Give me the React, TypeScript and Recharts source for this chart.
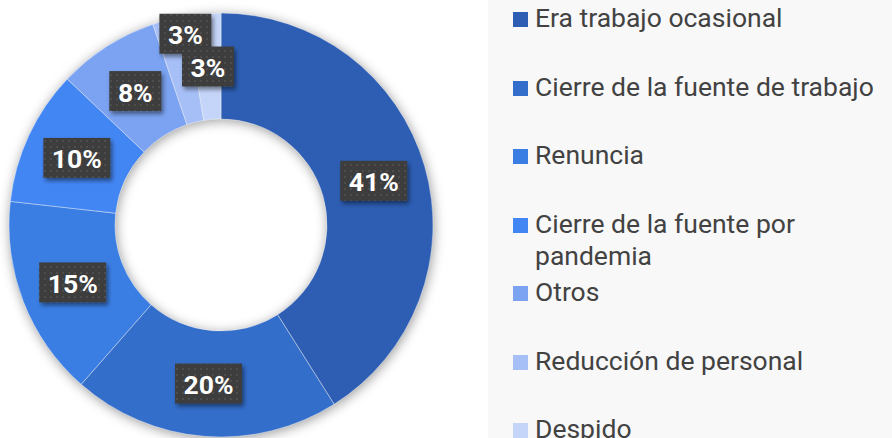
import { PieChart, Pie, Cell, Legend } from 'recharts';

const categories = [
  'Era trabajo ocasional',
  'Cierre de la fuente de trabajo',
  'Renuncia',
  'Cierre de la fuente por pandemia',
  'Otros',
  'Reducción de personal',
  'Despido',
];

const shares = [41.0, 20.4, 15.3, 10.3, 7.7, 2.6, 2.6];

const COLORS = ['#2d5eb3', '#336ecb', '#3b7ee3', '#4286f4', '#7ba3f2', '#a6bff7', '#c5d5f9'];

const data = categories.map((name, i) => ({ name, value: shares[i] }));
const total = shares.reduce((a, b) => a + b, 0);

const RADIAN = Math.PI / 180;
const CX = 221;
const CY = 225;
const INNER = 106;
const OUTER = 212;

// small slices at the top collide, push the earlier one up
const labelNudge: Record<string, [number, number]> = {
  'Reducción de personal': [3, -37],
};

const renderLabel = (props: any) => {
  const { cx, cy, midAngle, innerRadius, outerRadius, value, name } = props;
  const r = (innerRadius + outerRadius) / 2;
  const [nx, ny] = labelNudge[name] || [0, 0];
  const x = cx + r * Math.cos(-midAngle * RADIAN) + nx;
  const y = cy + r * Math.sin(-midAngle * RADIAN) + ny;
  const text = `${Math.round((value / total) * 100)}%`;
  const w = text.length * 15 + 22;
  const h = 40;
  return (
    <g>
      <rect x={x - w / 2} y={y - h / 2} width={w} height={h} fill="url(#dots)" filter="url(#boxShadow)" />
      <text
        x={x}
        y={y + 1}
        textAnchor="middle"
        dominantBaseline="central"
        fill="#ffffff"
        fontFamily="Roboto"
        fontWeight={700}
        fontSize={26.5}
      >
        {text}
      </text>
    </g>
  );
};

const renderLegend = () => (
  <div style={{ width: 404, height: 438, background: '#f8f8f8', fontFamily: 'Roboto', position: 'relative' }}>
    {categories.map((name, i) => (
      <div
        key={name}
        style={{
          position: 'absolute',
          left: 25,
          top: 2 + i * 68.5,
          width: 379,
          display: 'flex',
          alignItems: 'flex-start',
        }}
      >
        <div style={{ width: 15, height: 15, marginTop: 10, background: COLORS[i], flex: 'none' }} />
        <div style={{ marginLeft: 7, fontSize: 26.5, lineHeight: '32px', color: '#424242', width: 357 }}>{name}</div>
      </div>
    ))}
  </div>
);

export default function App() {
  return (
    <div style={{ width: 892, height: 438, position: 'relative', background: '#ffffff', overflow: 'hidden' }}>
      <style>{`body{margin:0}`}</style>
      <svg width={0} height={0} style={{ position: 'absolute' }}>
        <defs>
          <pattern id="dots" width={6} height={6} patternUnits="userSpaceOnUse">
            <rect width={6} height={6} fill="#3c3c3c" />
            <rect x={2} y={2} width={2} height={2} fill="#4e4e4e" />
          </pattern>
          <filter id="boxShadow" x="-30%" y="-30%" width="160%" height="160%">
            <feDropShadow dx={2} dy={3} stdDeviation={2} floodColor="#000" floodOpacity={0.45} />
          </filter>
          <filter id="softShadow" x="-50%" y="-50%" width="200%" height="200%">
            <feGaussianBlur stdDeviation={6} />
          </filter>
        </defs>
      </svg>
      <PieChart width={892} height={438} margin={{ top: 0, right: 0, bottom: 0, left: 0 }}>
        <Pie
          data={data}
          dataKey="value"
          nameKey="name"
          cx={CX + 1}
          cy={CY + 2}
          innerRadius={INNER}
          outerRadius={OUTER}
          startAngle={90}
          endAngle={-270}
          stroke="none"
          legendType="none"
          isAnimationActive={false}
        >
          {data.map((_, i) => (
            <Cell key={`shadow-${i}`} fill="#000000" fillOpacity={0.4} filter="url(#softShadow)" />
          ))}
        </Pie>
        <Pie
          data={data}
          dataKey="value"
          nameKey="name"
          cx={CX}
          cy={CY}
          innerRadius={INNER}
          outerRadius={OUTER}
          startAngle={90}
          endAngle={-270}
          stroke="#ffffff"
          strokeWidth={0.4}
          labelLine={false}
          label={renderLabel}
          isAnimationActive={false}
        >
          {data.map((_, i) => (
            <Cell key={`cell-${i}`} fill={COLORS[i]} />
          ))}
        </Pie>
        <Legend
          layout="vertical"
          align="right"
          verticalAlign="top"
          content={renderLegend}
          wrapperStyle={{ left: 488, top: 0, width: 404, height: 438 }}
        />
      </PieChart>
    </div>
  );
}
